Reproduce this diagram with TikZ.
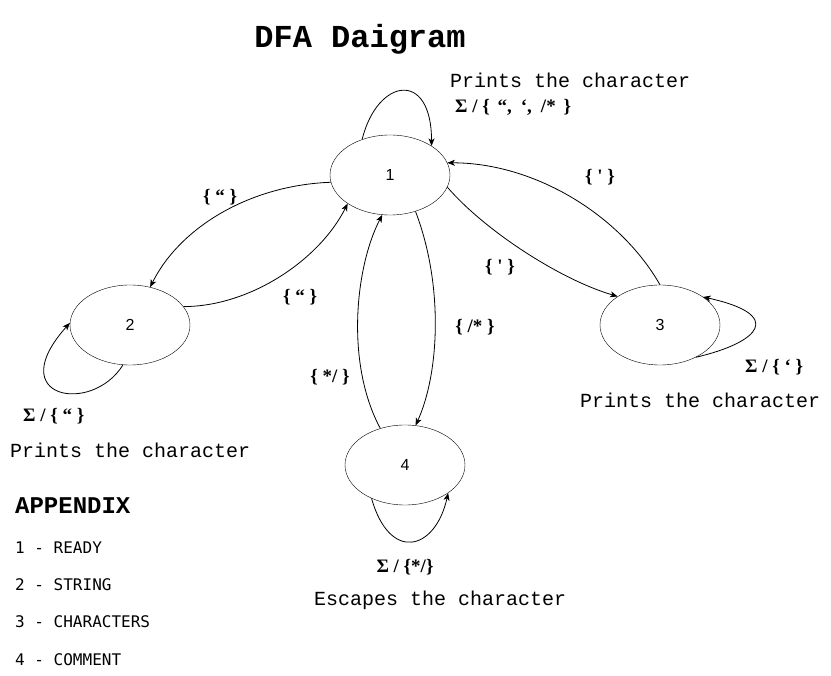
\documentclass[tikz,border=0pt]{standalone}
\usepackage{fontspec}
\setmainfont{Liberation Serif}
\newfontfamily\monof{Liberation Mono}
\newfontfamily\sansf{Liberation Sans}
\newfontfamily\appf{DejaVu Sans Mono}
\usetikzlibrary{shapes.geometric,arrows.meta}
\begin{document}
\begin{tikzpicture}[x=1pt,y=-1pt,
  state/.style={draw,ellipse,minimum width=120pt,minimum height=80pt,inner sep=0pt,font=\sansf\fontsize{16}{18}\selectfont},
  edge/.style={draw,line width=0.8pt,-{Stealth[length=7.5pt,width=6pt,inset=2pt]}},
  lab/.style={inner sep=0pt,font=\bfseries\fontsize{19}{22}\selectfont},
  mono/.style={inner sep=0pt,anchor=west,font=\monof\fontsize{20}{22}\selectfont},
  app/.style={inner sep=0pt,anchor=west,font=\appf\fontsize{16}{18}\selectfont}]
\useasboundingbox[fill=white] (0,0) rectangle (831,676);
\node[inner sep=0pt,font=\monof\bfseries\fontsize{32}{36}\selectfont] (title) at (360,39) {DFA Daigram};
\node[state] (s1) at (390,175) {1};
\node[state] (s2) at (130,325) {2};
\node[state] (s3) at (660,325) {3};
\node[state] (s4) at (405,465) {4};
% loops
\draw[edge] (s1.128) .. controls +(15,-61) and +(0,-77) .. (s1.35);
\draw[edge] (s2.-100) .. controls +(-31,50) and +(-68,76) .. (s2.178);
\draw[edge] (s3.-42) .. controls +(64,-15) and +(82,18) .. (s3.33);
\draw[edge] (s4.225) .. controls +(18,64) and +(-13,58) .. (s4.-33);
% transitions
\draw[edge] (s1.187) .. controls +(-81,3) and +(30,-60) .. (s2.62);
\draw[edge] (s2.19) .. controls +(67,0) and +(-28,56) .. (s1.214);
\draw[edge] (s3.90) .. controls +(-40,-70) and +(87,0) .. (s1.12);
\draw[edge] (s1.-12) .. controls +(37,43) and +(-58,-17) .. (s3.146);
\draw[edge] (s4.124) .. controls +(-35,-65) and +(-27,52) .. (s1.259);
\draw[edge] (s1.-55) .. controls +(28,73) and +(24,-53) .. (s4.75);
% labels
\node[lab] (l12) at (220,197) {\{ “ \}};
\node[lab] (l21) at (300,297) {\{ “ \}};
\node[lab] (l31) at (600,177) {\{ \textquotesingle\ \}};
\node[lab] (l13) at (500,267) {\{ \textquotesingle\ \}};
\node[lab] (l14) at (475,327) {\{ /* \}};
\node[lab] (l41) at (330,377) {\{ */ \}};
\node[lab,anchor=west] (loop1) at (455,107) {Σ / \{\hspace{3pt} “,\hspace{9pt}‘,\hspace{9pt}/*\hspace{3pt} \}};
\node[mono] (p1) at (450,80) {Prints the character};
\node[lab,anchor=west] (loop3) at (745,367) {Σ / \{ ‘ \}};
\node[mono] (p3) at (580,400) {Prints the character};
\node[lab,anchor=west] (loop2) at (23,416) {Σ / \{ “ \}};
\node[mono] (p2) at (10,450) {Prints the character};
\node[lab] (loop4) at (405,567) {Σ / \{*/\}};
\node[mono] (p4) at (314,600) {Escapes the character};
\node[inner sep=0pt,anchor=west,font=\monof\bfseries\fontsize{24}{28}\selectfont] (apx) at (15,506) {APPENDIX};
\node[app] (a1) at (15,548) {1 - READY};
\node[app] (a2) at (15,585) {2 - STRING};
\node[app] (a3) at (15,622) {3 - CHARACTERS};
\node[app] (a4) at (15,660) {4 - COMMENT};
\end{tikzpicture}
\end{document}
